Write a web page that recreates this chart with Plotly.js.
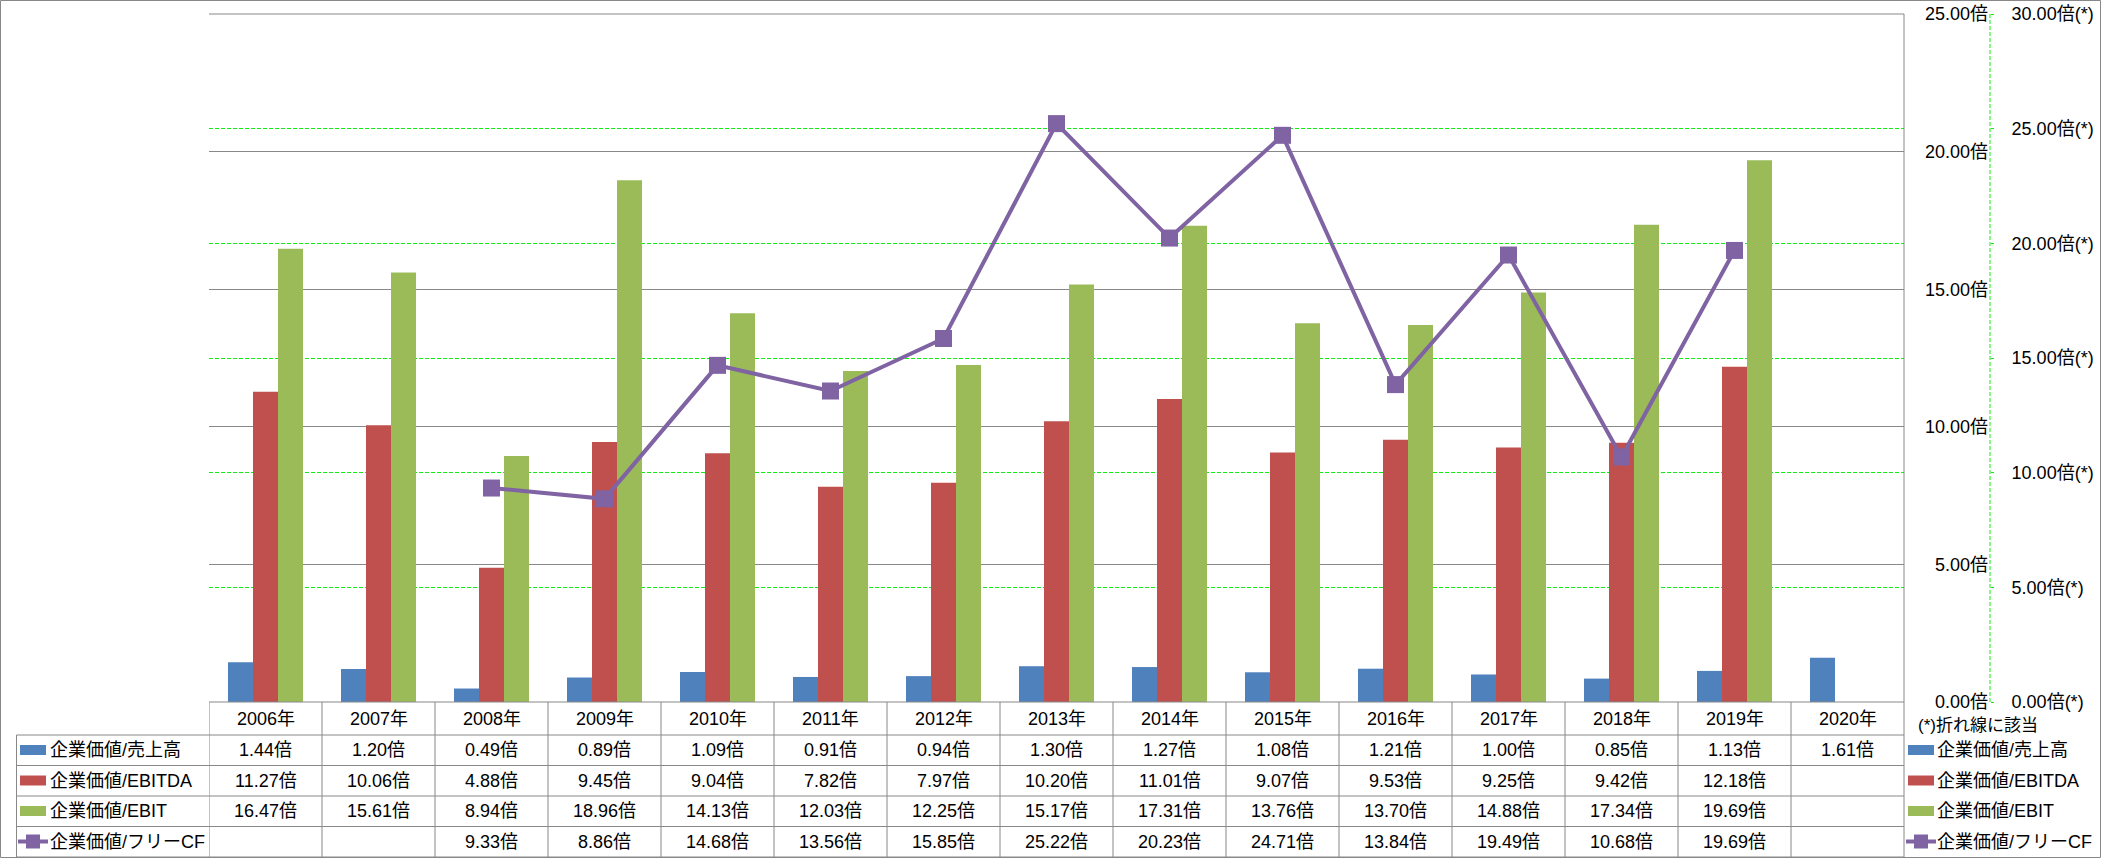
<!DOCTYPE html>
<html>
<head>
<meta charset="utf-8">
<script src="https://cdn.plot.ly/plotly-3.0.1.min.js"></script>
<style>html,body{margin:0;padding:0;background:#fff;}#chart{width:2101px;height:858px;}</style>
</head>
<body>
<div id="chart"></div>
<script>
// ---- data ----
const years = ['2006年','2007年','2008年','2009年','2010年','2011年','2012年','2013年','2014年','2015年','2016年','2017年','2018年','2019年','2020年'];
const evSales  = [1.44,1.20,0.49,0.89,1.09,0.91,0.94,1.30,1.27,1.08,1.21,1.00,0.85,1.13,1.61];
const evEbitda = [11.27,10.06,4.88,9.45,9.04,7.82,7.97,10.20,11.01,9.07,9.53,9.25,9.42,12.18,null];
const evEbit   = [16.47,15.61,8.94,18.96,14.13,12.03,12.25,15.17,17.31,13.76,13.70,14.88,17.34,19.69,null];
const evFcf    = [null,null,9.33,8.86,14.68,13.56,15.85,25.22,20.23,24.71,13.84,19.49,10.68,19.69,null];
const seriesNames = ['企業価値/売上高','企業価値/EBITDA','企業価値/EBIT','企業価値/フリーCF'];
const noteText = '(*)折れ線に該当';

// ---- styles / layout constants ----
const W = 2101, H = 858;
const colors = ['#4F81BD','#C0504D','#9BBB59','#7F63A2'];
const gray = '#888888';
const green = '#11ee11';
const FONT = 'Liberation Sans, Noto Sans CJK JP, sans-serif';
const FS = 18;
const plotL = 209, plotR = 1904, plotT = 14, plotB = 702;
const axisX = 1990;
const tableLeft = 16.5;
const rowLines = [702, 735, 765.5, 796, 826.5, 857];
const rowCenters = [718.5, 750, 780.5, 811, 841.5];
const px = x => x / W;
const py = y => 1 - y / H;

const allSeries = [evSales, evEbitda, evEbit, evFcf];

const traces = [];
for (let s = 0; s < 3; s++) {
  traces.push({
    type: 'bar', x: years, y: allSeries[s], name: seriesNames[s],
    marker: {color: colors[s], line: {width: 0}},
    yaxis: 'y', hoverinfo: 'skip'
  });
}
traces.push({
  type: 'scatter', mode: 'lines+markers', x: years, y: evFcf, name: seriesNames[3],
  yaxis: 'y2', connectgaps: false,
  line: {color: colors[3], width: 4},
  marker: {symbol: 'square', size: 17, color: colors[3], line: {width: 0}},
  hoverinfo: 'skip'
});

const shapes = [];
const annotations = [];
const lineStyle = {color: gray, width: 1};

// outer border
shapes.push({type:'rect', xref:'paper', yref:'paper', x0:px(0.5), x1:px(2100.5), y0:py(857.5), y1:py(0.5), line:lineStyle, layer:'above'});
// top plot line (primary 25 grid) drawn above green dashes
shapes.push({type:'line', xref:'paper', yref:'paper', x0:px(plotL), x1:px(plotR), y0:py(plotT), y1:py(plotT), line:lineStyle, layer:'above'});
// primary axis line on the right of plot area, extended through table
shapes.push({type:'line', xref:'paper', yref:'paper', x0:px(plotR), x1:px(plotR), y0:py(plotT), y1:py(857), line:lineStyle, layer:'above'});
// secondary axis dashed line
shapes.push({type:'line', xref:'paper', yref:'paper', x0:px(axisX), x1:px(axisX), y0:py(plotT), y1:py(plotB), line:{color:green, width:1, dash:'4px,2px'}, layer:'above'});

// table horizontal lines
shapes.push({type:'line', xref:'paper', yref:'paper', x0:px(plotL), x1:px(plotR), y0:py(rowLines[0]), y1:py(rowLines[0]), line:lineStyle, layer:'above'});
for (let r = 1; r < rowLines.length; r++) {
  shapes.push({type:'line', xref:'paper', yref:'paper', x0:px(tableLeft), x1:px(plotR), y0:py(rowLines[r]), y1:py(rowLines[r]), line:lineStyle, layer:'above'});
}
// table vertical lines between categories
for (let i = 0; i < years.length; i++) {
  shapes.push({type:'line', xref:'x', yref:'paper', x0:i-0.5, x1:i-0.5, y0:py(rowLines[0]), y1:py(857), line:lineStyle, layer:'above'});
}
// left border of row header box
shapes.push({type:'line', xref:'paper', yref:'paper', x0:px(tableLeft), x1:px(tableLeft), y0:py(rowLines[1]), y1:py(857), line:lineStyle, layer:'above'});

// category header labels
years.forEach((yr, i) => {
  annotations.push({xref:'x', yref:'paper', x:yr, y:py(rowCenters[0]), text:yr, showarrow:false, xanchor:'center', yanchor:'middle', font:{family:FONT, size:FS, color:'#000'}});
});
// values
allSeries.forEach((arr, s) => {
  arr.forEach((v, i) => {
    if (v === null) return;
    annotations.push({xref:'x', yref:'paper', x:years[i], y:py(rowCenters[s+1]), text:v.toFixed(2)+'倍', showarrow:false, xanchor:'center', yanchor:'middle', font:{family:FONT, size:FS, color:'#000'}});
  });
});

// legend keys (row headers on the left and legend on the right)
function addKey(s, kx, cy) {
  if (s < 3) {
    shapes.push({type:'rect', xref:'paper', yref:'paper', x0:px(kx), x1:px(kx+26), y0:py(cy+5), y1:py(cy-5), fillcolor:colors[s], line:{width:0}, layer:'above'});
  } else {
    shapes.push({type:'line', xref:'paper', yref:'paper', x0:px(kx-2), x1:px(kx+28), y0:py(cy), y1:py(cy), line:{color:colors[s], width:4}, layer:'above'});
    shapes.push({type:'rect', xref:'paper', yref:'paper', x0:px(kx+6), x1:px(kx+20), y0:py(cy+7), y1:py(cy-7), fillcolor:colors[s], line:{width:0}, layer:'above'});
  }
}
seriesNames.forEach((nm, s) => {
  const cy = rowCenters[s+1];
  addKey(s, 20, cy);
  annotations.push({xref:'paper', yref:'paper', x:px(48), y:py(cy), text:nm, showarrow:false, xanchor:'left', yanchor:'middle', font:{family:FONT, size:FS, color:'#000'}});
  addKey(s, 1908, cy);
  annotations.push({xref:'paper', yref:'paper', x:px(1935), y:py(cy), text:nm, showarrow:false, xanchor:'left', yanchor:'middle', font:{family:FONT, size:FS, color:'#000'}});
});
annotations.push({xref:'paper', yref:'paper', x:px(1916), y:py(725), text:noteText, showarrow:false, xanchor:'left', yanchor:'middle', font:{family:FONT, size:FS-1, color:'#000'}});

const layout = {
  width: W, height: H,
  margin: {l:0, r:0, t:0, b:0},
  paper_bgcolor: '#fff', plot_bgcolor: 'rgba(0,0,0,0)',
  showlegend: false,
  barmode: 'group', bargap: 0.336, bargroupgap: 0,
  font: {family: FONT, size: FS, color: '#000'},
  xaxis: {
    type: 'category', domain: [px(plotL), px(plotR)], range: [-0.5, years.length - 0.5],
    showticklabels: false, showgrid: false, zeroline: false, showline: false, ticks: '', fixedrange: true
  },
  yaxis: {
    domain: [py(plotB), py(plotT)], range: [0, 25], dtick: 5, tick0: 0,
    anchor: 'free', position: px(axisX), side: 'left',
    showgrid: true, gridcolor: gray, gridwidth: 1, zeroline: false, showline: false,
    ticks: '', tickformat: '.2f', ticksuffix: '倍', ticklabelstandoff: 2,
    tickfont: {family: FONT, size: FS, color: '#000'}
  },
  yaxis2: {
    overlaying: 'y', range: [0, 30], dtick: 5, tick0: 0,
    anchor: 'free', position: px(axisX), side: 'right',
    showgrid: true, gridcolor: green, gridwidth: 1, griddash: '4px,2px',
    zeroline: false, showline: false,
    ticks: 'outside', ticklen: 3, tickcolor: green, tickwidth: 1,
    tickformat: '.2f', ticksuffix: '倍(*)', ticklabelstandoff: 14,
    tickfont: {family: FONT, size: FS, color: '#000'}
  },
  shapes: shapes,
  annotations: annotations
};

Plotly.newPlot('chart', traces, layout, {staticPlot: true, displayModeBar: false});
</script>
</body>
</html>
